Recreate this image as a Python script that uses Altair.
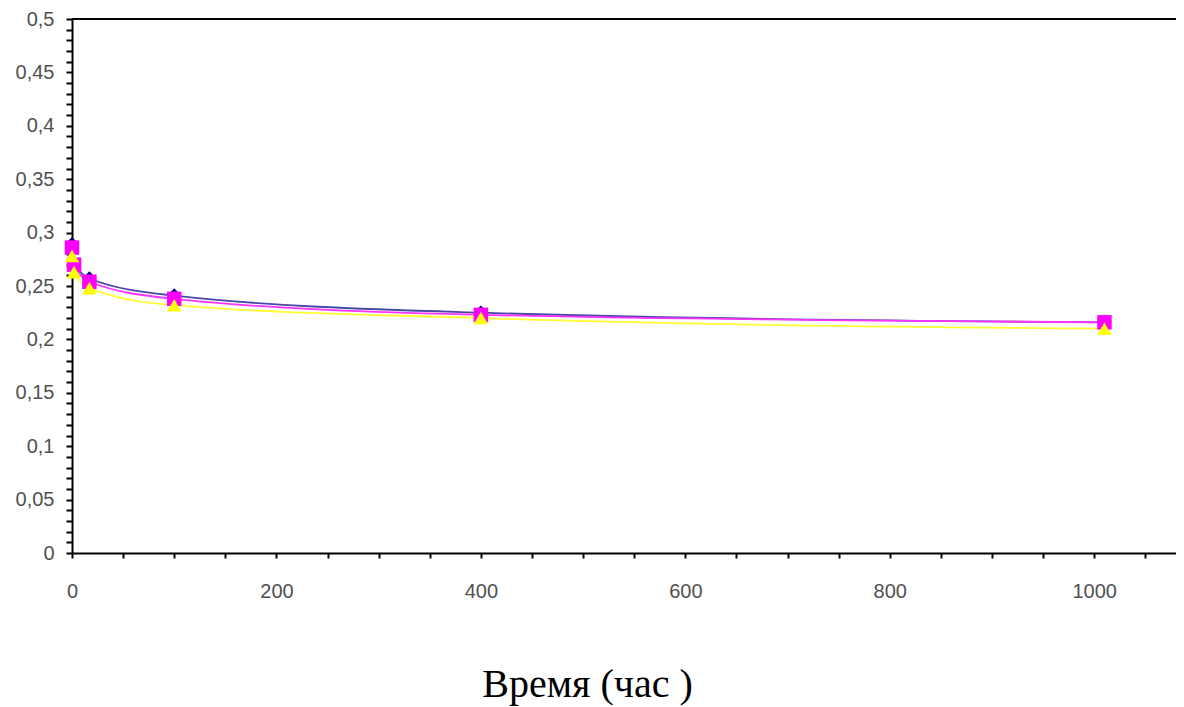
import altair as alt
import pandas as pd

# Data
time_h = [0, 2, 17, 100, 400, 1010]
series_blue = [0.289, 0.272, 0.257, 0.241, 0.225, 0.216]
series_magenta = [0.286, 0.270, 0.254, 0.238, 0.223, 0.216]
series_yellow = [0.278, 0.263, 0.248, 0.232, 0.220, 0.210]
series_names = ["S1", "S2", "S3"]
line_colors = ["#4848a8", "#ff33ff", "#ffff33"]
marker_colors = ["#000080", "#ff00ff", "#ffff00"]
marker_shapes = ["diamond", "square", "triangle-up"]

x_ticks = [float(v) for v in range(0, 1051, 50)]
y_ticks = [i / 100 for i in range(0, 51)]

rows = []
for name, vals in zip(series_names, [series_blue, series_magenta, series_yellow]):
    for t, v in zip(time_h, vals):
        rows.append({"t": t, "v": v, "s": name})
df = pd.DataFrame(rows)

W, H = 1104, 534

xs = alt.Scale(domain=[0, 1080], nice=False, zero=False)
ys = alt.Scale(domain=[0, 0.5], nice=False)

x_axis = alt.Axis(
    values=x_ticks,
    tickCount=200,
    labelExpr="datum.value % 200 == 0 ? datum.label : ''",
    format="d",
    grid=False,
    labelOverlap=False, labelBound=False, labelFlush=False,
    domainColor="black", domainWidth=2,
    tickColor="black", tickWidth=2, tickSize=5,
    labelFont="Liberation Sans", labelFontSize=20, labelColor="#505050",
    labelPadding=23,
    title="Время (час )",
    titleFont="Liberation Serif", titleFontSize=40, titleFontWeight="normal",
    titleColor="black", titlePadding=63, titleX=515, titleAnchor="middle",
)
y_axis = alt.Axis(
    values=y_ticks,
    tickCount=200,
    labelExpr="abs(datum.value*20 - round(datum.value*20)) < 0.000001 ? replace(format(datum.value, '~g'), '.', ',') : ''",
    grid=False,
    labelOverlap=False, labelBound=False, labelFlush=False,
    domainColor="black", domainWidth=2,
    tickColor="black", tickWidth=2, tickSize=6,
    labelFont="Liberation Sans", labelFontSize=20, labelColor="#505050",
    labelPadding=12,
    title=None,
)

color_scale = alt.Scale(domain=series_names, range=line_colors)
mcolor_scale = alt.Scale(domain=series_names, range=marker_colors)
shape_scale = alt.Scale(domain=series_names, range=marker_shapes)

lines = alt.Chart(df).mark_line(interpolate="monotone", strokeWidth=1.8).encode(
    x=alt.X("t:Q", scale=xs, axis=x_axis),
    y=alt.Y("v:Q", scale=ys, axis=y_axis),
    color=alt.Color("s:N", scale=color_scale, legend=None),
    detail="s:N",
)

points = alt.Chart(df).mark_point(filled=True, size=210, opacity=1).encode(
    x=alt.X("t:Q", scale=xs),
    y=alt.Y("v:Q", scale=ys),
    color=alt.Color("s:N", scale=mcolor_scale, legend=None),
    shape=alt.Shape("s:N", scale=shape_scale, legend=None),
)

top_line = alt.Chart(pd.DataFrame({"a": [0]})).mark_rule(color="black", strokeWidth=2).encode(
    x=alt.value(0), x2=alt.value(W), y=alt.value(0)
)

chart = alt.layer(lines, points, top_line).resolve_scale(color="independent").properties(
    width=W, height=H,
    autosize=alt.AutoSizeParams(type="none"),
    padding={"left": 64, "top": 11, "right": 0, "bottom": 154},
).configure_view(stroke=None)

chart.save("out.html", embed_options={"renderer": "svg", "actions": False})
